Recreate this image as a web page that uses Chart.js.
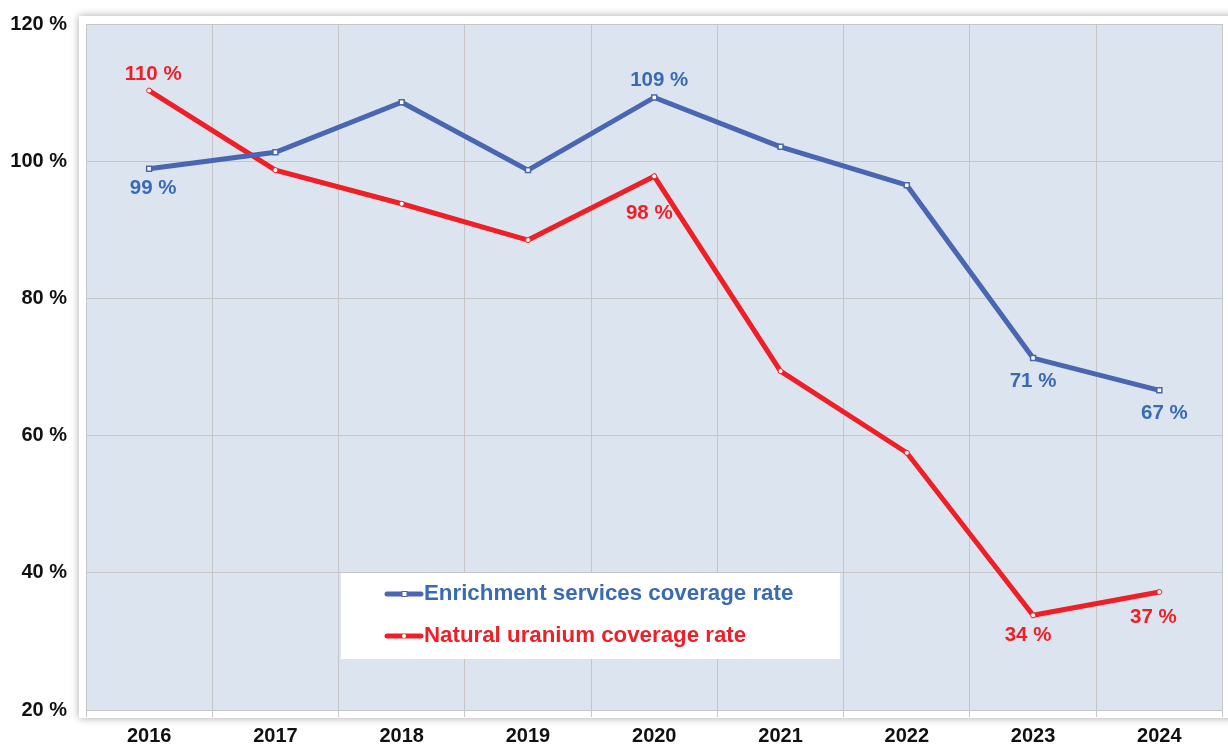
<!DOCTYPE html>
<html>
<head>
<meta charset="utf-8">
<script src="https://cdn.jsdelivr.net/npm/chart.js@4"></script>
<style>
  html, body { margin: 0; padding: 0; background: #fff; }
  #wrap { width: 1228px; height: 745px; position: relative; }
</style>
</head>
<body>
<div id="wrap"><canvas id="chart"></canvas></div>
<script>
// data
var years = ["2016", "2017", "2018", "2019", "2020", "2021", "2022", "2023", "2024"];
var enrichment = [98.9, 101.3, 108.6, 98.7, 109.3, 102.1, 96.5, 71.3, 66.6];
var uranium = [110.3, 98.7, 93.8, 88.5, 97.8, 69.4, 57.5, 33.8, 37.2];
var yTicks = [20, 40, 60, 80, 100, 120];
// which points carry a value label (1 = shown)
var enrichmentShown = [1, 0, 0, 0, 1, 0, 0, 1, 1];
var uraniumShown = [1, 0, 0, 0, 1, 0, 0, 1, 1];

var blue = "#4a66b2";
var blueText = "#3a6ab4";
var red = "#ee1f26";
var fontFam = "'Liberation Sans', Arial, sans-serif";

// label placement (pixels from the point)
var labelPos = [
  { dx: [4, 0, 0, 0, 5, 0, 0, 0, 5], dy: [20, 0, 0, 0, -17, 0, 0, 23, 23] },
  { dx: [4, 0, 0, 0, -5, 0, 0, -5, -6], dy: [-16, 0, 0, 0, 37, 0, 0, 20, 25] }
];

var framePlugin = {
  id: "frame",
  beforeDraw: function(chart) {
    var ctx = chart.ctx;
    var a = chart.chartArea;
    ctx.save();
    ctx.shadowColor = "rgba(0,0,0,0.35)";
    ctx.shadowBlur = 8;
    ctx.fillStyle = "#fff";
    ctx.fillRect(a.left - 7, a.top - 8, a.right - a.left + 20, a.bottom - a.top + 16);
    ctx.restore();
    ctx.save();
    ctx.fillStyle = "#dce5ef";
    ctx.fillRect(a.left, a.top, a.right - a.left, a.bottom - a.top);
    ctx.restore();
  }
};

var labelPlugin = {
  id: "pointLabels",
  afterDatasetsDraw: function(chart) {
    var ctx = chart.ctx;
    ctx.save();
    ctx.font = "bold 20.5px " + fontFam;
    ctx.textAlign = "center";
    ctx.textBaseline = "middle";
    chart.data.datasets.forEach(function(ds, di) {
      var meta = chart.getDatasetMeta(di);
      meta.data.forEach(function(pt, i) {
        if (!ds.shown[i]) return;
        ctx.fillStyle = ds.textColor;
        var txt = Math.round(ds.data[i]) + " %";
        ctx.fillText(txt, pt.x + labelPos[di].dx[i], pt.y + labelPos[di].dy[i]);
      });
    });
    ctx.restore();
  }
};

var legendPlugin = {
  id: "boxLegend",
  afterDraw: function(chart) {
    var ctx = chart.ctx;
    ctx.save();
    ctx.fillStyle = "#fff";
    ctx.fillRect(341, 573, 499, 86);
    ctx.font = "bold 22.3px " + fontFam;
    ctx.textBaseline = "middle";
    ctx.textAlign = "left";
    var rows = [594, 636];
    chart.data.datasets.forEach(function(ds, di) {
      var y = rows[di];
      ctx.strokeStyle = ds.borderColor;
      ctx.lineWidth = 5;
      ctx.lineCap = "round";
      ctx.beginPath();
      ctx.moveTo(387, y);
      ctx.lineTo(421, y);
      ctx.stroke();
      ctx.fillStyle = "#fff";
      ctx.strokeStyle = ds.borderColor;
      ctx.lineWidth = 1;
      if (di === 0) {
        ctx.fillRect(402, y - 2.5, 5, 5);
        ctx.strokeRect(402, y - 2.5, 5, 5);
      } else {
        ctx.beginPath();
        ctx.arc(404, y, 2, 0, Math.PI * 2);
        ctx.fill();
      }
      ctx.fillStyle = ds.textColor;
      ctx.fillText(ds.label, 424, y);
    });
    ctx.restore();
  }
};

var ctx = document.getElementById("chart");
var chart = new Chart(ctx, {
  type: "line",
  data: {
    labels: years,
    datasets: [
      {
        label: "Enrichment services coverage rate",
        data: enrichment,
        shown: enrichmentShown,
        textColor: blueText,
        borderColor: blue,
        borderWidth: 5,
        pointStyle: "rect",
        pointRadius: 3.5,
        pointBackgroundColor: "#fff",
        pointBorderColor: blue,
        pointBorderWidth: 1.5,
        tension: 0
      },
      {
        label: "Natural uranium coverage rate",
        data: uranium,
        shown: uraniumShown,
        textColor: red,
        borderColor: red,
        borderWidth: 5,
        pointStyle: "circle",
        pointRadius: 2.5,
        pointBackgroundColor: "#fff",
        pointBorderColor: red,
        pointBorderWidth: 1,
        tension: 0
      }
    ]
  },
  options: {
    responsive: true,
    maintainAspectRatio: false,
    animation: false,
    layout: { padding: { top: 24, right: 3, left: 0, bottom: 0 } },
    plugins: {
      legend: { display: false },
      tooltip: { enabled: false }
    },
    scales: {
      x: {
        offset: true,
        grid: {
          offset: true,
          color: "#c6c6c6",
          lineWidth: 1,
          drawTicks: true,
          tickLength: 7
        },
        border: { color: "#c6c6c6" },
        ticks: {
          color: "#111",
          padding: 7,
          font: { family: fontFam, size: 20, weight: "bold" }
        },
        afterFit: function(scale) { scale.height = 35; }
      },
      y: {
        min: 20,
        max: 120,
        afterBuildTicks: function(scale) {
          scale.ticks = yTicks.map(function(v) { return { value: v }; });
        },
        grid: { color: "#c6c6c6", drawTicks: false },
        border: { color: "#c6c6c6" },
        ticks: {
          color: "#111",
          padding: 19,
          font: { family: fontFam, size: 20, weight: "bold" },
          callback: function(v) { return v + " %"; }
        },
        afterFit: function(scale) {
          scale.width = 86;
          scale.paddingTop = 10;
          scale.paddingBottom = 10;
        }
      }
    }
  },
  plugins: [framePlugin, labelPlugin, legendPlugin]
});
</script>
</body>
</html>
